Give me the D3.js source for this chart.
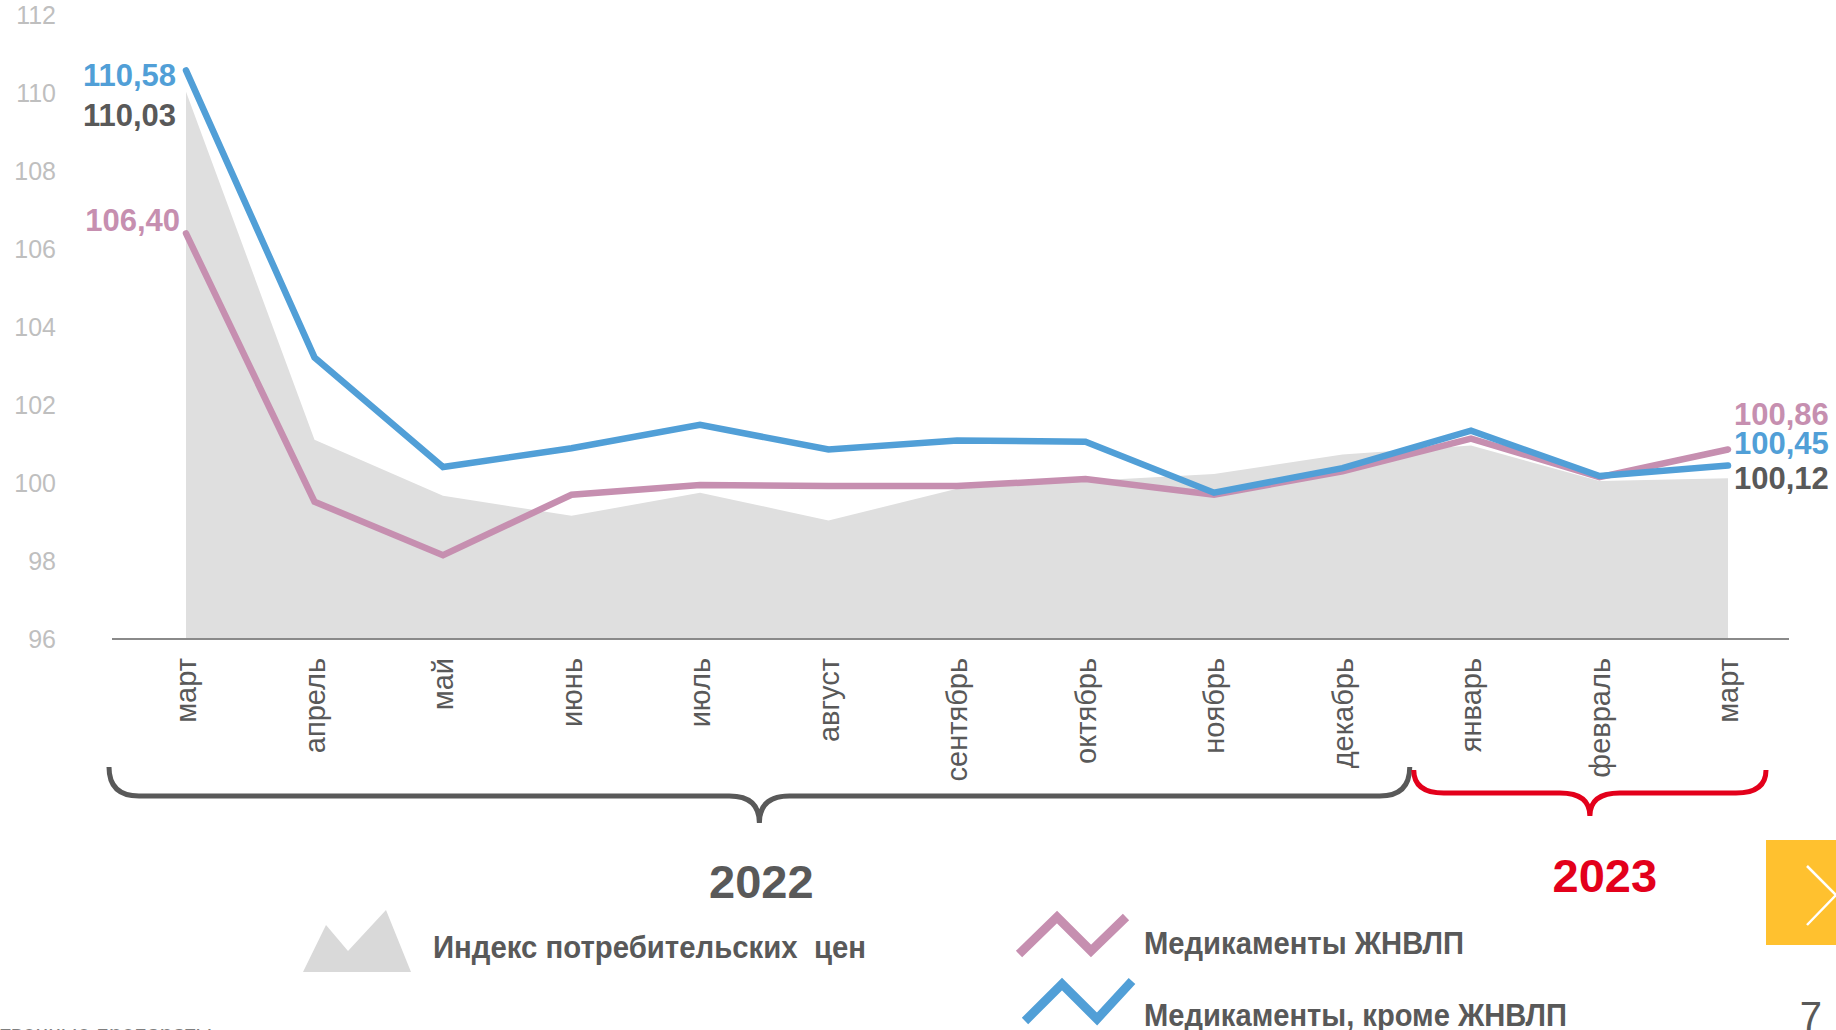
<!DOCTYPE html>
<html>
<head>
<meta charset="utf-8">
<script src="https://cdn.jsdelivr.net/npm/d3@7"></script>
<style>
  html, body { margin: 0; padding: 0; background: #fff; overflow: hidden; }
  svg { display: block; font-family: "Liberation Sans", Arial, sans-serif; }
  .narrow { font-family: "Liberation Sans Narrow", "Arial Narrow", "Liberation Sans", Arial, sans-serif; font-weight: bold; white-space: pre; }
</style>
</head>
<body>
<svg id="chart" width="1836" height="1030"></svg>
<script>
// months, March 2022 .. March 2023
const months = ['март', 'апрель', 'май', 'июнь', 'июль', 'август', 'сентябрь', 'октябрь', 'ноябрь', 'декабрь', 'январь', 'февраль', 'март'];
const years = ['2022', '2023'];
const yearStart = [0, 10];   // index of first month in each year

const cpi   = [110.03, 101.11, 99.67, 99.16, 99.75, 99.04, 99.85, 100.05, 100.23, 100.73, 100.96, 100.05, 100.12];
const vital = [106.40, 99.52, 98.15, 99.70, 99.95, 99.92, 99.92, 100.10, 99.70, 100.30, 101.14, 100.15, 100.86];
const other = [110.58, 103.22, 100.41, 100.89, 101.49, 100.86, 101.09, 101.06, 99.75, 100.38, 101.34, 100.18, 100.45];

const yTicks = [96, 98, 100, 102, 104, 106, 108, 110, 112];
const names = ['Индекс потребительских  цен', 'Медикаменты ЖНВЛП', 'Медикаменты, кроме ЖНВЛП'];

const DARK = '#595959', PINK = '#c68fb0', BLUE = '#519fd7', AREA = '#dfdfdf', RED = '#e3001b';

const svg = d3.select('#chart');

const x = d3.scalePoint()
  .domain(d3.range(months.length))
  .range([186, 1728]);

const y = d3.scaleLinear()
  .domain([96, 112])
  .range([639, 15]);

const fmt = d3.formatLocale({ decimal: ',', thousands: ' ', grouping: [3], currency: ['', ''] }).format('.2f');

// y axis labels only
const yAxis = svg.append('g')
  .attr('transform', 'translate(62,0)')
  .call(d3.axisLeft(y).tickValues(yTicks).tickSize(0).tickPadding(6));
yAxis.select('.domain').remove();
yAxis.selectAll('text')
  .attr('fill', '#bfbfbf')
  .style('font-size', '25px')
  .style('font-family', '"Liberation Sans", Arial, sans-serif');

// CPI as grey area
const area = d3.area()
  .x((d, i) => x(i))
  .y0(y(96))
  .y1(d => y(d));

svg.append('path')
  .datum(cpi)
  .attr('d', area)
  .attr('fill', AREA);

// baseline
svg.append('line')
  .attr('x1', 112).attr('x2', 1789)
  .attr('y1', y(96)).attr('y2', y(96))
  .attr('stroke', '#8a8a8a')
  .attr('stroke-width', 2);

const line = d3.line()
  .x((d, i) => x(i))
  .y(d => y(d));

[[vital, PINK], [other, BLUE]].forEach(([vals, col]) => {
  svg.append('path')
    .datum(vals)
    .attr('d', line)
    .attr('fill', 'none')
    .attr('stroke', col)
    .attr('stroke-width', 6.5)
    .attr('stroke-linecap', 'round')
    .attr('stroke-linejoin', 'miter');
});

// first / last value labels
const last = months.length - 1;
const labels = [
  { vals: other, color: BLUE, i: 0, dx: -10, dy: 16 },
  { vals: cpi, color: DARK, i: 0, dx: -10, dy: 34 },
  { vals: vital, color: PINK, i: 0, dx: -6, dy: -2 },
  { vals: vital, color: PINK, i: last, dx: 6, dy: -24 },
  { vals: other, color: BLUE, i: last, dx: 6, dy: -11 },
  { vals: cpi, color: DARK, i: last, dx: 6, dy: 11 }
];
svg.append('g')
  .selectAll('text')
  .data(labels)
  .enter().append('text')
  .attr('x', d => x(d.i) + d.dx)
  .attr('y', d => y(d.vals[d.i]) + d.dy)
  .attr('text-anchor', d => d.i === 0 ? 'end' : 'start')
  .attr('fill', d => d.color)
  .style('font-size', '31px')
  .style('font-weight', 'bold')
  .text(d => fmt(d.vals[d.i]));

// month labels, vertical
svg.append('g')
  .selectAll('text')
  .data(months)
  .enter().append('text')
  .attr('transform', (d, i) => `translate(${x(i)},658) rotate(-90)`)
  .attr('dy', '0.35em')
  .attr('text-anchor', 'end')
  .attr('fill', DARK)
  .style('font-size', '29px')
  .text(d => d);

// year braces
function brace(x0, x1, yTop, yMid, yTip) {
  const xm = (x0 + x1) / 2, r = 30;
  return `M${x0},${yTop} Q${x0},${yMid} ${x0 + r},${yMid} L${xm - r},${yMid} Q${xm},${yMid} ${xm},${yTip}` +
    ` Q${xm},${yMid} ${xm + r},${yMid} L${x1 - r},${yMid} Q${x1},${yMid} ${x1},${yTop}`;
}
const split = (x(yearStart[1] - 1) + x(yearStart[1])) / 2;
const braces = [
  { label: years[0], x0: x(0) - 77, x1: split + 3, top: 767, mid: 796, tip: 823, color: DARK, tx: 2, ty: 898 },
  { label: years[1], x0: split + 7, x1: x(last) + 38, top: 770, mid: 793, tip: 816, color: RED, tx: 15, ty: 892 }
];
braces.forEach(b => {
  svg.append('path')
    .attr('d', brace(b.x0, b.x1, b.top, b.mid, b.tip))
    .attr('fill', 'none')
    .attr('stroke', b.color)
    .attr('stroke-width', 5);
  svg.append('text')
    .attr('x', (b.x0 + b.x1) / 2 + b.tx)
    .attr('y', b.ty)
    .attr('text-anchor', 'middle')
    .attr('fill', b.color)
    .style('font-size', '47px')
    .style('font-weight', 'bold')
    .text(b.label);
});

// legend
const legend = svg.append('g');
legend.append('path')
  .attr('d', 'M303,972 L326,925 L348,951 L386,910 L411,972 Z')
  .attr('fill', '#d9d9d9');
legend.append('path')
  .attr('d', 'M1019,954 L1057,917 L1091,951 L1126,917')
  .attr('fill', 'none').attr('stroke', PINK).attr('stroke-width', 9);
legend.append('path')
  .attr('d', 'M1025,1021 L1062,984 L1097,1019 L1132,981')
  .attr('fill', 'none').attr('stroke', BLUE).attr('stroke-width', 9);

const legendText = [
  { t: names[0], x: 433, y: 958, w: 433 },
  { t: names[1], x: 1144, y: 954, w: 320 },
  { t: names[2], x: 1144, y: 1026, w: 423 }
];
legend.selectAll('text.lg')
  .data(legendText)
  .enter().append('text')
  .attr('class', 'narrow')
  .attr('xml:space', 'preserve')
  .attr('x', d => d.x)
  .attr('y', d => d.y)
  .attr('textLength', d => d.w)
  .attr('lengthAdjust', 'spacingAndGlyphs')
  .attr('fill', DARK)
  .style('font-size', '32px')
  .text(d => d.t);

// slide furniture
svg.append('rect')
  .attr('x', 1766).attr('y', 840).attr('width', 70).attr('height', 105)
  .attr('fill', '#ffc12f');
svg.append('path')
  .attr('d', 'M1807,866 L1836,895 L1807,925')
  .attr('fill', 'none').attr('stroke', '#fff').attr('stroke-width', 2.5);

svg.append('text')
  .attr('x', 1822).attr('y', 1030)
  .attr('text-anchor', 'end')
  .attr('fill', DARK)
  .style('font-size', '40px')
  .text('7');

svg.append('text')
  .attr('x', 212).attr('y', 1042)
  .attr('text-anchor', 'end')
  .attr('fill', '#7f7f7f')
  .style('font-size', '23px')
  .text('лекарственные препараты');
</script>
</body>
</html>
